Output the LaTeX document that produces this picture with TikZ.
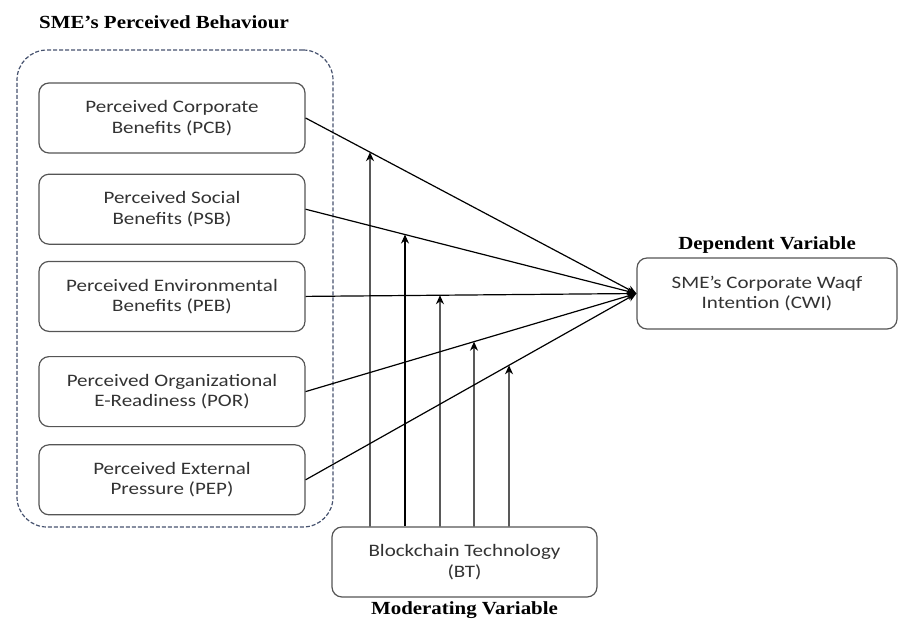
\documentclass[tikz,border=0pt]{standalone}
\usepackage{fontspec}
\setmainfont{Carlito}[FakeStretch=1.2]
\newfontfamily\headfont{Liberation Serif}[FakeStretch=1.13]
\usepackage{tikz}
\usetikzlibrary{positioning}
\usetikzlibrary{arrows.meta}
\definecolor{boxgray}{HTML}{555555}
\definecolor{dashblue}{HTML}{46526E}
\definecolor{textgray}{HTML}{333333}
\tikzset{every picture/.style={line width=1.2pt}}
\tikzset{var/.style={draw=boxgray,rounded corners=10pt,minimum width=266pt,minimum height=70pt,align=center,text=textgray,font=\fontsize{17.5}{20.5}\selectfont}}
\tikzset{head/.style={font=\headfont\bfseries\fontsize{18.5}{22}\selectfont}}
\tikzset{link/.style={-{Stealth[length=9pt,width=8pt]}}}

\begin{document}
\begin{tikzpicture}[x=1pt,y=-1pt]
\useasboundingbox (0,0) rectangle (901,619);

\node (group) [draw=dashblue, dash pattern=on 4pt off 2pt, rounded corners=30pt, minimum width=316pt, minimum height=477pt] at (175,288.5) {};
\node (grouptitle) [head] at (164,22) {SME’s Perceived Behaviour};

\node (pcb) [var] at (172,118) {Perceived Corporate\\Benefits (PCB)};
\node (psb) [var, below=20pt of pcb] {Perceived Social\\Benefits (PSB)};
\node (peb) [var, below=16pt of psb] {Perceived Environmental\\Benefits (PEB)};
\node (por) [var, below=24pt of peb] {Perceived Organizational\\E-Readiness (POR)};
\node (pep) [var, below=17pt of por] {Perceived External\\Pressure (PEP)};

\node (cwi) [var, minimum width=260pt, minimum height=71pt] at (767,293.5) {SME’s Corporate Waqf\\Intention (CWI)};
\node (cwititle) [head, above=0pt of cwi] {Dependent Variable};

\node (bt) [var, minimum width=265pt] at (464.5,562) {Blockchain Technology\\(BT)};
\node (bttitle) [head, below=0pt of bt] {Moderating Variable};

% direct effects
\foreach \src in {pcb,psb,peb,por,pep}
  \draw[link] (\src.east) -- (cwi.west);

% moderating effects
\foreach \dx/\src [count=\i] in {-94.5/pcb,-59.5/psb,-24.5/peb,9.5/por,44.5/pep} {
  \coordinate (m\i) at ([xshift=\dx pt]bt.north);
  \coordinate (t\i) at ([yshift=450pt]m\i);
  \draw[link] (m\i) -- (intersection of \src.east--cwi.west and m\i--t\i);
}
\end{tikzpicture}
\end{document}
